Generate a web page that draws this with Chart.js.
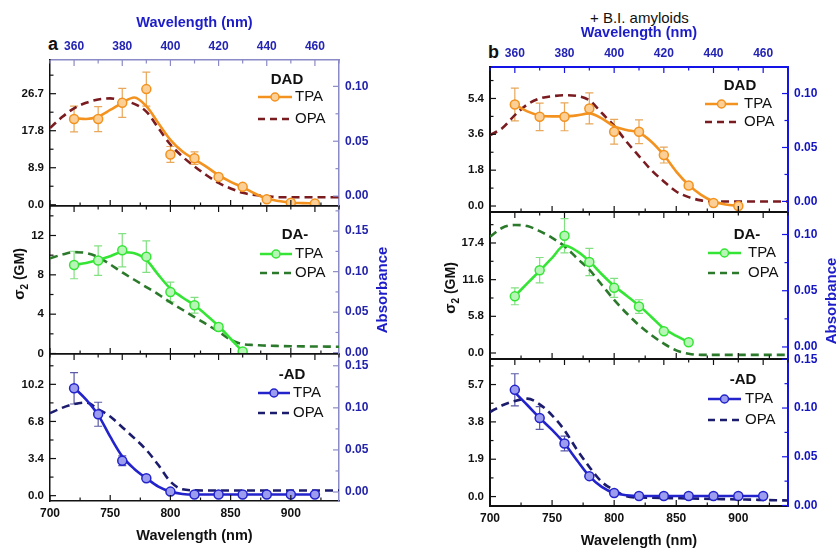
<!DOCTYPE html>
<html>
<head>
<meta charset="utf-8">
<title>TPA / OPA spectra</title>
<script src="https://cdn.jsdelivr.net/npm/chart.js@4.4.1/dist/chart.umd.min.js"></script>
<style>
  html, body { margin: 0; padding: 0; background: #fff; }
  #fig { position: relative; width: 838px; height: 550px; overflow: hidden; font-family: Arial, "Liberation Sans", sans-serif; }
  #fig canvas { position: absolute; }
  .txt { position: absolute; white-space: nowrap; line-height: 18px; color: #111; }
</style>
</head>
<body>
<div id="fig">
  <div class="txt" style="left:48px; top:35px; font-size:18px; font-weight:bold;">a</div>
  <div class="txt" style="left:488px; top:43px; font-size:18px; font-weight:bold;">b</div>
  <div class="txt" style="left:590px; top:9px; font-size:15px;">+ B.I. amyloids</div>
</div>
<script>
const FONT = 'Arial, "Liberation Sans", sans-serif';
Chart.defaults.font.family = FONT;

// wavelengths (nm)
const WL_TPA = [720, 740, 760, 780, 800, 820, 840, 860, 880, 900, 920];
const WL_FIT = [720, 730, 740, 750, 760, 770, 780, 790, 800, 810, 820, 830, 840, 850, 860, 870, 880, 890, 900, 910, 920];
const WL_OPA = [700, 710, 720, 730, 740, 750, 760, 770, 780, 790, 800, 810, 820, 830, 840, 850, 860, 870, 880, 890, 900, 910, 920, 930, 940];

// tick labels
const BOTTOM_TICKS = [700, 750, 800, 850, 900];
const TOP_TICKS = [360, 380, 400, 420, 440, 460];
const ABS_TICKS_3 = [0, 0.05, 0.10];
const ABS_TICKS_4 = [0, 0.05, 0.10, 0.15];
const GM_TICKS_A_DAD = [0, 8.9, 17.8, 26.7];
const GM_TICKS_A_DA = [0, 4, 8, 12];
const GM_TICKS_A_AD = [0, 3.4, 6.8, 10.2];
const GM_TICKS_B_DAD = [0, 1.8, 3.6, 5.4];
const GM_TICKS_B_DA = [0, 5.8, 11.6, 17.4];
const GM_TICKS_B_AD = [0, 1.9, 3.8, 5.7];

// (a) free dyes
const A_DAD_TPA = [20.6, 20.6, 24.5, 27.8, 12.1, 11.2, 6.7, 4.3, 1.3, 0.5, 0.3];
const A_DAD_ERR = [3.1, 3.0, 3.5, 4.1, 1.9, 1.5, 0.6, 0.4, 0, 0, 0];
const A_DAD_FIT = [20.8, 20.6, 21.2, 22.8, 24.5, 25.8, 23.7, 19.6, 15.6, 12.8, 10.9, 9.1, 7.1, 5.5, 4.2, 2.7, 1.5, 0.9, 0.5, 0.4, 0.3];
const A_DAD_OPA = [0.062, 0.072, 0.080, 0.085, 0.088, 0.089, 0.087, 0.084, 0.077, 0.062, 0.047, 0.036, 0.027, 0.019, 0.012, 0.007, 0.003, 0.001, 0.000, -0.001, -0.001, -0.001, -0.001, -0.001, -0.001];

const A_DA_TPA = [9.0, 9.45, 10.5, 9.85, 6.25, 4.9, 2.7, 0.2];
const A_DA_ERR = [1.4, 1.5, 1.7, 1.6, 1.0, 0.8, 0.3, 0];
const A_DA_FIT = [9.0, 9.2, 9.5, 9.9, 10.3, 10.2, 9.5, 8.0, 6.6, 5.7, 4.9, 3.9, 2.8, 1.5, 0.2];
const A_DA_OPA = [0.1165, 0.121, 0.124, 0.123, 0.118, 0.109, 0.099, 0.090, 0.081, 0.072, 0.062, 0.053, 0.044, 0.035, 0.026, 0.016, 0.0105, 0.0095, 0.0087, 0.0083, 0.008, 0.0078, 0.0077, 0.0075, 0.0074];

const A_AD_TPA = [9.84, 7.46, 3.2, 1.6, 0.37, 0.1, 0.1, 0.1, 0.1, 0.1, 0.1];
const A_AD_ERR = [1.44, 1.1, 0.45, 0, 0, 0, 0, 0, 0, 0, 0];
const A_AD_FIT = [9.9, 8.8, 7.4, 5.4, 3.6, 2.45, 1.6, 0.83, 0.37, 0.15, 0.1, 0.1, 0.1, 0.1, 0.1, 0.1, 0.1, 0.1, 0.1, 0.1, 0.1];
const A_AD_OPA = [0.0937, 0.100, 0.1044, 0.1063, 0.0984, 0.0897, 0.077, 0.064, 0.050, 0.032, 0.0123, 0.0032, 0.002, 0.0018, 0.0018, 0.0018, 0.0018, 0.0018, 0.0018, 0.0018, 0.0018, 0.0018, 0.0018, 0.0018, 0.0018];

// (b) + B.I. amyloids
const B_DAD_TPA = [5.1, 4.48, 4.48, 4.9, 3.73, 3.73, 2.56, 1.03, 0.15, 0.0];
const B_DAD_ERR = [0.82, 0.69, 0.7, 0.78, 0.62, 0.6, 0.4, 0, 0, 0];
const B_DAD_FIT = [5.1, 4.75, 4.55, 4.5, 4.5, 4.55, 4.65, 4.4, 4.0, 3.82, 3.68, 3.23, 2.56, 1.73, 1.06, 0.56, 0.23, 0.08, 0.0];
const B_DAD_OPA = [0.0615, 0.068, 0.080, 0.0898, 0.0954, 0.0975, 0.0984, 0.0978, 0.0938, 0.082, 0.070, 0.0553, 0.042, 0.029, 0.0185, 0.0092, 0.004, 0.001, 0, 0, 0, 0, 0, 0, 0];

const B_DA_TPA = [8.96, 13.1, 18.55, 14.4, 10.3, 7.35, 3.44, 1.7];
const B_DA_ERR = [1.33, 2.0, 2.7, 2.15, 1.5, 1.07, 0, 0];
const B_DA_FIT = [9.0, 11.0, 13.0, 15.05, 17.0, 16.1, 14.5, 12.46, 10.6, 9.07, 7.5, 5.7, 3.86, 2.7, 1.7];
const B_DA_OPA = [0.098, 0.106, 0.1084, 0.1075, 0.103, 0.097, 0.0896, 0.079, 0.0687, 0.0553, 0.0418, 0.030, 0.0194, 0.0105, 0.003, -0.003, -0.006, -0.007, -0.007, -0.007, -0.007, -0.007, -0.007, -0.007, -0.007];

const B_AD_TPA = [5.43, 4.0, 2.7, 1.04, 0.18, 0.03, 0.03, 0.03, 0.03, 0.03, 0.03];
const B_AD_ERR = [0.82, 0.58, 0.38, 0, 0, 0, 0, 0, 0, 0, 0];
const B_AD_FIT = [5.3, 4.66, 4.0, 3.39, 2.7, 1.85, 1.04, 0.49, 0.18, 0.07, 0.03, 0.03, 0.03, 0.03, 0.03, 0.03, 0.03, 0.03, 0.03, 0.03, 0.03];
const B_AD_OPA = [0.0959, 0.1028, 0.1072, 0.1096, 0.1038, 0.0925, 0.0772, 0.0574, 0.0396, 0.0242, 0.0157, 0.0095, 0.0082, 0.008, 0.0078, 0.0075, 0.0072, 0.007, 0.0068, 0.0065, 0.0062, 0.006, 0.0057, 0.0054, 0.0052];

const STYLES = {
  DAD: { name: 'DAD', tpa: '#f3921f', fill: '#fbcf95', err: '#e8a75a', opa: '#7a1b20' },
  DA: { name: 'DA-', tpa: '#35e535', fill: '#b8f6b8', err: '#82e082', opa: '#2b7a2b' },
  AD: { name: '-AD', tpa: '#2323cc', fill: '#9d9def', err: '#5a5aa6', opa: '#1c1c6e' },
};

const COL_A = {
  x0: 0, w: 420, left: 50, right: 339, frame: 1.5,
  edge: '#8a8ac6', absLabel: '#2222aa', topTitlePad: 14, xTitlePad: 5.6,
  sigma: { x: 20, y: 274 }, absorb: { x: 383, y: 290 },
};
const COL_B = {
  x0: 420, w: 418, left: 490, right: 788, frame: 2,
  edge: '#1414e6', absLabel: '#1515c0', topTitlePad: 24.5, xTitlePad: 0,
  sigma: { x: 451, y: 288 }, absorb: { x: 832, y: 301 },
};

const PANELS = [
  { col: COL_A, role: 'top', top: 60, bottom: 206, st: STYLES.DAD,
    tpa: A_DAD_TPA, err: A_DAD_ERR, fit: A_DAD_FIT, opa: A_DAD_OPA,
    gm: [-0.3, 34.8], gmTicks: GM_TICKS_A_DAD, gmDec: 1, abs: [-0.009, 0.124], absTicks: ABS_TICKS_3,
    legend: { title: 52, line: [81, 47], text: 44, rows: [20, 37, 59] } },
  { col: COL_A, role: 'mid', top: 206, bottom: 354, st: STYLES.DA,
    tpa: A_DA_TPA, err: A_DA_ERR, fit: A_DA_FIT, opa: A_DA_OPA,
    gm: [-0.05, 15.0], gmTicks: GM_TICKS_A_DA, gmDec: 0, abs: [-0.0016, 0.181], absTicks: ABS_TICKS_4,
    legend: { title: 44, line: [79, 47], text: 44, rows: [29, 48, 67] } },
  { col: COL_A, role: 'bottom', top: 354, bottom: 501, st: STYLES.AD,
    tpa: A_AD_TPA, err: A_AD_ERR, fit: A_AD_FIT, opa: A_AD_OPA,
    gm: [-0.49, 12.98], gmTicks: GM_TICKS_A_AD, gmDec: 1, abs: [-0.0107, 0.164], absTicks: ABS_TICKS_4,
    legend: { title: 47, line: [81, 49], text: 46, rows: [21, 39, 59] } },
  { col: COL_B, role: 'top', top: 67, bottom: 212, st: STYLES.DAD,
    tpa: B_DAD_TPA, err: B_DAD_ERR, fit: B_DAD_FIT, opa: B_DAD_OPA,
    gm: [-0.3, 6.98], gmTicks: GM_TICKS_B_DAD, gmDec: 1, abs: [-0.0098, 0.1246], absTicks: ABS_TICKS_3,
    legend: { title: 48, line: [83, 50], text: 44, rows: [19, 37, 55] } },
  { col: COL_B, role: 'mid', top: 212, bottom: 359, st: STYLES.DA,
    tpa: B_DA_TPA, err: B_DA_ERR, fit: B_DA_FIT, opa: B_DA_OPA,
    gm: [-0.95, 22.3], gmTicks: GM_TICKS_B_DA, gmDec: 1, abs: [-0.0107, 0.12], absTicks: ABS_TICKS_3,
    legend: { title: 41, line: [80, 47], text: 40, rows: [23, 41, 61] } },
  { col: COL_B, role: 'bottom', top: 359, bottom: 506, st: STYLES.AD,
    tpa: B_AD_TPA, err: B_AD_ERR, fit: B_AD_FIT, opa: B_AD_OPA,
    gm: [-0.48, 7.0], gmTicks: GM_TICKS_B_AD, gmDec: 1, abs: [-0.0005, 0.1503], absTicks: ABS_TICKS_4,
    legend: { title: 45, line: [80, 47], text: 43, rows: [21, 40, 61] } },
];

const xy = (xs, ys) => ys.map((v, i) => ({ x: xs[i], y: v }));

// force exact box sizes so every panel lines up
const fixW = (w) => (s) => { s.width = w; s.paddingTop = 0; s.paddingBottom = 0; };
const fixH = (h) => (s) => { s.height = h; s.paddingLeft = 0; s.paddingRight = 0; };
const useTicks = (vals) => (s) => { s.ticks = vals.map((v) => ({ value: v })); };

// inward major + minor tick marks
function tickPlugin(marks) {
  return {
    id: 'tickMarks',
    afterDatasetsDraw(chart) {
      const { ctx, chartArea: a } = chart;
      Object.keys(marks).forEach((id) => {
        const s = chart.scales[id];
        const m = marks[id];
        const majors = s.ticks.map((t) => t.value);
        const step = majors[1] - majors[0];
        const minors = [];
        for (let v = majors[0] - step / 2; v >= s.min; v -= step) minors.push(v);
        majors.forEach((v) => minors.push(v + step / 2));
        ctx.save();
        ctx.strokeStyle = m.color;
        ctx.lineWidth = 1.2;
        const draw = (v, len) => {
          if (v < s.min || v > s.max) return;
          const p = s.getPixelForValue(v);
          ctx.beginPath();
          if (s.position === 'left') { ctx.moveTo(a.left, p); ctx.lineTo(a.left + len, p); }
          else if (s.position === 'right') { ctx.moveTo(a.right, p); ctx.lineTo(a.right - len, p); }
          else if (s.position === 'top') { ctx.moveTo(p, a.top); ctx.lineTo(p, a.top + len); }
          else { ctx.moveTo(p, a.bottom); ctx.lineTo(p, a.bottom - len); }
          ctx.stroke();
        };
        majors.forEach((v) => draw(v, 6));
        minors.forEach((v) => draw(v, 3.5));
        ctx.restore();
      });
    },
  };
}

// vertical error bars with caps, drawn under the markers
const errorBars = {
  id: 'errorBars',
  beforeDatasetsDraw(chart) {
    const { ctx, scales } = chart;
    chart.data.datasets.forEach((ds) => {
      if (!ds.errors) return;
      ctx.save();
      ctx.strokeStyle = ds.errorColor;
      ctx.lineWidth = 1.2;
      ds.data.forEach((pt, i) => {
        const e = ds.errors[i];
        if (!e) return;
        const x = scales.x.getPixelForValue(pt.x);
        const y1 = scales.y.getPixelForValue(pt.y - e);
        const y2 = scales.y.getPixelForValue(pt.y + e);
        ctx.beginPath();
        ctx.moveTo(x, y1); ctx.lineTo(x, y2);
        ctx.moveTo(x - 4, y1); ctx.lineTo(x + 4, y1);
        ctx.moveTo(x - 4, y2); ctx.lineTo(x + 4, y2);
        ctx.stroke();
      });
      ctx.restore();
    });
  },
};

function legendPlugin(lg, st) {
  return {
    id: 'panelLegend',
    afterDatasetsDraw(chart) {
      const { ctx, chartArea: a } = chart;
      const x0 = a.right - lg.line[0];
      const x1 = a.right - lg.line[1];
      const yT = a.top + lg.rows[1];
      const yO = a.top + lg.rows[2];
      ctx.save();
      ctx.textBaseline = 'middle';
      ctx.fillStyle = '#111';
      ctx.font = `bold 15px ${FONT}`;
      ctx.textAlign = 'center';
      ctx.fillText(st.name, a.right - lg.title, a.top + lg.rows[0]);
      ctx.font = `15px ${FONT}`;
      ctx.textAlign = 'left';
      ctx.fillText('TPA', a.right - lg.text, yT);
      ctx.fillText('OPA', a.right - lg.text, yO);
      ctx.strokeStyle = st.tpa;
      ctx.lineWidth = 2.5;
      ctx.beginPath(); ctx.moveTo(x0, yT); ctx.lineTo(x1, yT); ctx.stroke();
      ctx.beginPath(); ctx.arc((x0 + x1) / 2, yT, 4, 0, Math.PI * 2);
      ctx.fillStyle = st.fill; ctx.fill();
      ctx.lineWidth = 1.5; ctx.stroke();
      ctx.strokeStyle = st.opa;
      ctx.lineWidth = 2.5;
      ctx.setLineDash([7, 5]);
      ctx.beginPath(); ctx.moveTo(x0, yO); ctx.lineTo(x1, yO); ctx.stroke();
      ctx.restore();
    },
  };
}

// rotated side titles (sigma_2 and Absorbance both read bottom-to-top)
function sidePlugin(items, offX, offY) {
  return {
    id: 'sideTitles',
    afterDraw(chart) {
      const ctx = chart.ctx;
      items.forEach((it) => {
        ctx.save();
        ctx.translate(it.x - offX, it.y - offY);
        ctx.rotate(-Math.PI / 2);
        ctx.textAlign = 'left';
        ctx.textBaseline = 'middle';
        let total = 0;
        it.parts.forEach((p) => { ctx.font = `bold ${p.size}px ${FONT}`; total += ctx.measureText(p.text).width; });
        let cx = -total / 2;
        it.parts.forEach((p) => {
          ctx.font = `bold ${p.size}px ${FONT}`;
          ctx.fillStyle = it.color;
          ctx.fillText(p.text, cx, p.dy || 0);
          cx += ctx.measureText(p.text).width;
        });
        ctx.restore();
      });
    },
  };
}

const fig = document.getElementById('fig');

PANELS.forEach((p) => {
  const col = p.col;
  const st = p.st;
  const isTop = p.role === 'top';
  const isBottom = p.role === 'bottom';
  const padTop = isTop ? p.top : 10;
  const padBottom = isBottom ? 550 - p.bottom : 10;
  const cTop = p.top - padTop;
  const h = p.bottom - p.top + padTop + padBottom;

  const cv = document.createElement('canvas');
  cv.width = col.w;
  cv.height = h;
  cv.style.left = col.x0 + 'px';
  cv.style.top = cTop + 'px';
  cv.style.width = col.w + 'px';
  cv.style.height = h + 'px';
  fig.appendChild(cv);

  const hidden = { display: true, drawOnChartArea: false, drawTicks: false };
  const plugins = [
    errorBars,
    tickPlugin({
      x: { color: '#111' },
      xt: { color: isTop ? col.edge : '#111' },
      y: { color: '#111' },
      y2: { color: col.edge },
    }),
    legendPlugin(p.legend, st),
  ];
  if (p.role === 'mid') {
    plugins.push(sidePlugin([
      { x: col.sigma.x, y: col.sigma.y, color: '#111',
        parts: [{ text: 'σ', size: 15 }, { text: '2', size: 10, dy: 5 }, { text: ' (GM)', size: 14 }] },
      { x: col.absorb.x, y: col.absorb.y, color: '#1c1cc8', parts: [{ text: 'Absorbance', size: 15 }] },
    ], col.x0, cTop));
  }

  new Chart(cv, {
    type: 'line',
    data: {
      datasets: [
        {
          label: 'TPA',
          data: xy(WL_TPA, p.tpa),
          xAxisID: 'x', yAxisID: 'y',
          showLine: false,
          pointRadius: 4.5,
          pointBackgroundColor: st.fill,
          pointBorderColor: st.tpa,
          pointBorderWidth: 1.5,
          errors: p.err,
          errorColor: st.err,
        },
        {
          label: 'TPA fit',
          data: xy(WL_FIT, p.fit),
          xAxisID: 'x', yAxisID: 'y',
          borderColor: st.tpa,
          borderWidth: 2.6,
          pointRadius: 0,
          cubicInterpolationMode: 'monotone',
          fill: false,
        },
        {
          label: 'OPA',
          data: xy(WL_OPA, p.opa),
          xAxisID: 'x', yAxisID: 'y2',
          borderColor: st.opa,
          borderWidth: 2.6,
          borderDash: [8, 5],
          pointRadius: 0,
          cubicInterpolationMode: 'monotone',
          fill: false,
        },
      ],
    },
    options: {
      responsive: false,
      maintainAspectRatio: false,
      animation: false,
      devicePixelRatio: 1,
      layout: { padding: 0, autoPadding: false },
      plugins: { legend: { display: false }, tooltip: { enabled: false } },
      scales: {
        x: {
          type: 'linear', axis: 'x', position: 'bottom', min: 700, max: 940,
          afterBuildTicks: useTicks(BOTTOM_TICKS),
          afterFit: fixH(padBottom),
          grid: hidden,
          border: { color: '#111', width: col.frame },
          ticks: {
            display: isBottom, padding: 5, color: '#111', maxRotation: 0, autoSkip: false,
            font: { size: 12, weight: 'bold' },
            callback: (v) => String(v),
          },
          title: {
            display: isBottom, text: 'Wavelength (nm)', color: '#111',
            font: { size: 14.5, weight: 'bold' },
            padding: { top: 0, bottom: col.xTitlePad },
          },
        },
        xt: {
          type: 'linear', axis: 'x', position: 'top', min: 350, max: 470,
          afterBuildTicks: useTicks(TOP_TICKS),
          afterFit: fixH(padTop),
          grid: hidden,
          border: { color: isTop ? col.edge : '#111', width: col.frame },
          ticks: {
            display: isTop, padding: 6, color: '#2424b4', maxRotation: 0, autoSkip: false,
            font: { size: 12, weight: 'bold' },
            callback: (v) => String(v),
          },
          title: {
            display: isTop, text: 'Wavelength (nm)', color: '#1c1cc8',
            font: { size: 14.5, weight: 'bold' },
            padding: { top: col.topTitlePad, bottom: 0 },
          },
        },
        y: {
          type: 'linear', axis: 'y', position: 'left', min: p.gm[0], max: p.gm[1],
          afterBuildTicks: useTicks(p.gmTicks),
          afterFit: fixW(col.left - col.x0),
          grid: hidden,
          border: { color: '#111', width: col.frame },
          ticks: {
            padding: 6, color: '#111', autoSkip: false,
            font: { size: 11.5, weight: 'bold' },
            callback: (v) => v.toFixed(p.gmDec),
          },
        },
        y2: {
          type: 'linear', axis: 'y', position: 'right', min: p.abs[0], max: p.abs[1],
          afterBuildTicks: useTicks(p.absTicks),
          afterFit: fixW(col.x0 + col.w - col.right),
          grid: hidden,
          border: { color: col.edge, width: col.frame },
          ticks: {
            padding: 6, color: col.absLabel, autoSkip: false,
            font: { size: 12, weight: 'bold' },
            callback: (v) => v.toFixed(2),
          },
        },
      },
    },
    plugins,
  });
});
</script>
</body>
</html>
